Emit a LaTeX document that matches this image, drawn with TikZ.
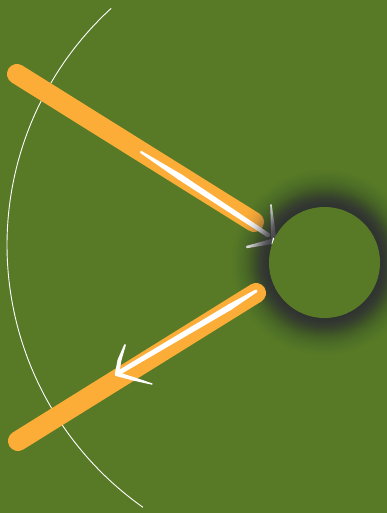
\documentclass[tikz,border=0pt]{standalone}
\usetikzlibrary{calc}
\definecolor{bgg}{RGB}{88,122,38}
\definecolor{orng}{RGB}{251,173,55}
\definecolor{shadowc}{RGB}{48,48,56}
\tikzset{
  orangeline/.style={line width=20pt, line cap=round, draw=orng},
  thinarc/.style={draw=white, line width=0.9pt},
  whitestroke/.style={fill=white},
}
\newcommand\tstroke[5]{%
  \fill[#1] ($(#2)!#4!90:(#3)$) -- ($(#3)!#5!-90:(#2)$) -- ($(#3)!#5!90:(#2)$) -- ($(#2)!#4!-90:(#3)$) -- cycle;
  \fill[#1] (#2) circle[radius=#4];
  \fill[#1] (#3) circle[radius=#5];
}
\begin{document}
\begin{tikzpicture}[x=1pt,y=-1pt]
\fill[bgg] (0,0) rectangle (387,513);
\useasboundingbox (0,0) rectangle (387,513);
% thin arc
\coordinate (arcc) at (328,245);
\draw[thinarc] (arcc) ++(132.5:321pt) arc[start angle=132.5, end angle=234.8, radius=321pt];
% circle center
\coordinate (cc) at (324.5,262.5);
% line 1 (incoming)
\coordinate (o1a) at (17,74);
\coordinate (o1b) at (254,222);
\draw[orangeline] (o1a) -- (o1b);
\coordinate (s1) at (141,152);
\coordinate (m1) at (180,177);
\coordinate (e1) at (268,235);
\coordinate (tip1) at (274,241);
\coordinate (b1a) at (271,205);
\coordinate (b1b) at (247,247);
\tstroke{whitestroke}{s1}{m1}{1.2pt}{3pt}
\tstroke{whitestroke}{m1}{e1}{3pt}{2.2pt}
\tstroke{whitestroke}{tip1}{b1a}{2.6pt}{0.8pt}
\tstroke{whitestroke}{tip1}{b1b}{2.6pt}{1.2pt}
% shadow
\foreach \r in {100,99,...,57}{
  \pgfmathsetmacro\shTa{1-0.85*exp(-((\r-1-56)/17)^2)}
  \pgfmathsetmacro\shTb{1-0.85*exp(-((\r-56)/17)^2)}
  \pgfmathsetmacro\shA{1-\shTa/\shTb}
  \fill[shadowc, opacity=\shA] (cc) circle[radius=\r pt];
}
\fill[white] (273,237.5) -- (279,243) -- (271.5,244.5) -- cycle;
% line 2 (outgoing)
\coordinate (o2a) at (256,293);
\coordinate (o2b) at (18,441);
\draw[orangeline] (o2a) -- (o2b);
\coordinate (s2) at (256,291);
\coordinate (m2) at (230,307);
\coordinate (e2) at (120,372);
\coordinate (tip2) at (117,374);
\coordinate (b2m) at (119.5,360);
\coordinate (b2a) at (125,345);
\coordinate (b2n) at (134,379);
\coordinate (b2b) at (152,384);
\tstroke{whitestroke}{s2}{m2}{1.5pt}{3pt}
\tstroke{whitestroke}{m2}{e2}{3pt}{2.3pt}
\tstroke{whitestroke}{tip2}{b2m}{2.2pt}{1.9pt}
\tstroke{whitestroke}{b2m}{b2a}{1.9pt}{0.9pt}
\tstroke{whitestroke}{tip2}{b2n}{2.2pt}{1.7pt}
\tstroke{whitestroke}{b2n}{b2b}{1.7pt}{0.7pt}
% circle
\node[circle, fill=bgg, minimum size=111pt, inner sep=0pt] (c) at (cc) {};
\end{tikzpicture}
\end{document}
